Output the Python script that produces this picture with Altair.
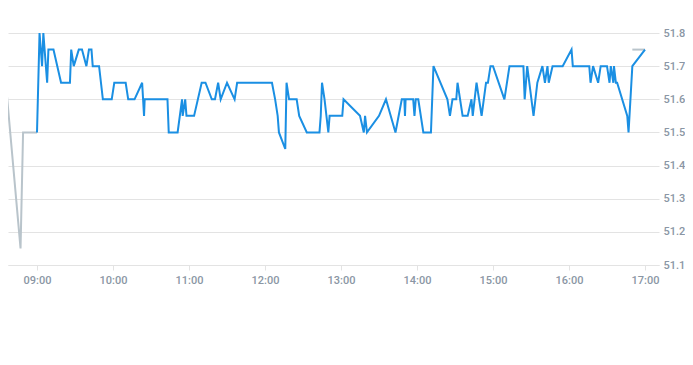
import altair as alt
import pandas as pd

DAY = "2024-01-02"

# Main (regular session) series: time, price
main_times = [
    "09:00", "09:02", "09:04", "09:05", "09:08", "09:09", "09:13", "09:19", "09:26", "09:27",
    "09:29", "09:33", "09:35:30", "09:39", "09:41", "09:43", "09:44", "09:49", "09:52", "09:59",
    "10:01", "10:10", "10:12", "10:17", "10:23", "10:24:30", "10:25", "10:43", "10:44", "10:51",
    "10:54:30", "10:55", "10:57", "10:58", "11:04", "11:10", "11:13", "11:18", "11:20:30", "11:23",
    "11:25", "11:30", "11:36", "11:38", "12:05:30", "12:08", "12:10", "12:11", "12:16", "12:17",
    "12:19", "12:25", "12:27", "12:33", "12:43", "12:44", "12:45", "12:47", "12:50", "12:51",
    "13:01", "13:02", "13:15", "13:18", "13:19", "13:20:30", "13:30", "13:35:30", "13:43", "13:48",
    "13:50", "13:50:30", "13:51", "13:57", "13:58", "13:59", "14:01", "14:05", "14:11", "14:13",
    "14:24", "14:26", "14:28", "14:31", "14:32", "14:36", "14:40", "14:43", "14:44", "14:47",
    "14:51", "14:54:30", "14:56", "14:58", "15:00", "15:09", "15:13", "15:24", "15:25", "15:27",
    "15:32", "15:35", "15:39", "15:41", "15:43", "15:44", "15:47", "15:55", "16:02", "16:03",
    "16:16", "16:17", "16:19", "16:23", "16:25", "16:30", "16:32", "16:33", "16:35", "16:35:30",
    "16:37", "16:38", "16:46", "16:47", "16:50", "17:00",
]
main_prices = [
    51.50, 51.80, 51.70, 51.80, 51.65, 51.75, 51.75, 51.65, 51.65, 51.75,
    51.70, 51.75, 51.75, 51.70, 51.75, 51.75, 51.70, 51.70, 51.60, 51.60,
    51.65, 51.65, 51.60, 51.60, 51.65, 51.55, 51.60, 51.60, 51.50, 51.50,
    51.60, 51.55, 51.60, 51.55, 51.55, 51.65, 51.65, 51.60, 51.60, 51.65,
    51.60, 51.65, 51.60, 51.65, 51.65, 51.60, 51.55, 51.50, 51.45, 51.65,
    51.60, 51.60, 51.55, 51.50, 51.50, 51.55, 51.65, 51.60, 51.50, 51.55,
    51.55, 51.60, 51.55, 51.50, 51.55, 51.50, 51.55, 51.60, 51.50, 51.60,
    51.60, 51.55, 51.60, 51.60, 51.55, 51.60, 51.60, 51.50, 51.50, 51.70,
    51.60, 51.55, 51.60, 51.60, 51.65, 51.55, 51.55, 51.60, 51.55, 51.65,
    51.55, 51.65, 51.65, 51.70, 51.70, 51.60, 51.70, 51.70, 51.60, 51.70,
    51.55, 51.65, 51.70, 51.65, 51.70, 51.65, 51.70, 51.70, 51.75, 51.70,
    51.70, 51.65, 51.70, 51.65, 51.70, 51.70, 51.65, 51.70, 51.65, 51.70,
    51.65, 51.65, 51.55, 51.50, 51.70, 51.75,
]

# Extended-hours series (grey)
pre_times = ["08:30", "08:47", "08:49", "09:00"]
pre_prices = [51.88, 51.15, 51.50, 51.50]
post_times = ["16:50", "17:00"]
post_prices = [51.75, 51.75]

hour_ticks = [9, 10, 11, 12, 13, 14, 15, 16, 17]
y_ticks = [51.1, 51.2, 51.3, 51.4, 51.5, 51.6, 51.7, 51.8]


def to_ts(t):
    if t.count(":") == 1:
        t = t + ":00"
    return f"{DAY}T{t}"


main_df = pd.DataFrame({"time": [to_ts(t) for t in main_times], "price": main_prices})
ext_df = pd.DataFrame({
    "time": [to_ts(t) for t in pre_times] + [to_ts(t) for t in post_times],
    "price": pre_prices + post_prices,
    "seg": ["pre"] * len(pre_times) + ["post"] * len(post_times),
})

x_domain = [
    alt.DateTime(year=2024, month=1, date=2, hours=8, minutes=37, seconds=6),
    alt.DateTime(year=2024, month=1, date=2, hours=17, minutes=11, seconds=3),
]
x_vals = [alt.DateTime(year=2024, month=1, date=2, hours=h, minutes=0) for h in hour_ticks]

label_color = "#8a96a4"
grid_color = "#e3e3e3"

x_enc = alt.X(
    "time:T",
    scale=alt.Scale(domain=x_domain),
    axis=alt.Axis(
        values=x_vals, tickCount=20, format="%H:%M", title=None, grid=False,
        domainColor=grid_color, tickColor=grid_color, tickSize=5,
        labelPadding=4, labelColor=label_color, labelFontSize=11,
        labelFont="Roboto", labelFontWeight=500, labelOverlap=False,
    ),
)
y_enc = alt.Y(
    "price:Q",
    scale=alt.Scale(domain=[51.1, 51.8755], nice=False, zero=False),
    axis=alt.Axis(
        orient="right", values=y_ticks, tickCount=20, format=".1f", title=None,
        grid=True, gridColor=grid_color, ticks=False, domain=False,
        labelPadding=4, labelColor=label_color, labelFontSize=11,
        labelFont="Roboto", labelFontWeight=500, labelOverlap=False,
    ),
)

ext = alt.Chart(ext_df).mark_line(color="#b9c4cb", strokeWidth=2, clip=True).encode(
    x=x_enc, y=y_enc, detail="seg:N"
)
main = alt.Chart(main_df).mark_line(color="#1a8fe3", strokeWidth=2, clip=True).encode(
    x=x_enc, y=y_enc
)

chart = alt.layer(ext, main).properties(
    width=651, height=257,
    padding={"left": 0, "top": 0, "right": 26, "bottom": 40},
    autosize=alt.AutoSizeParams(type="none"),
).configure_view(stroke=None)

chart.save("out.html", embed_options={"renderer": "svg", "actions": False})
